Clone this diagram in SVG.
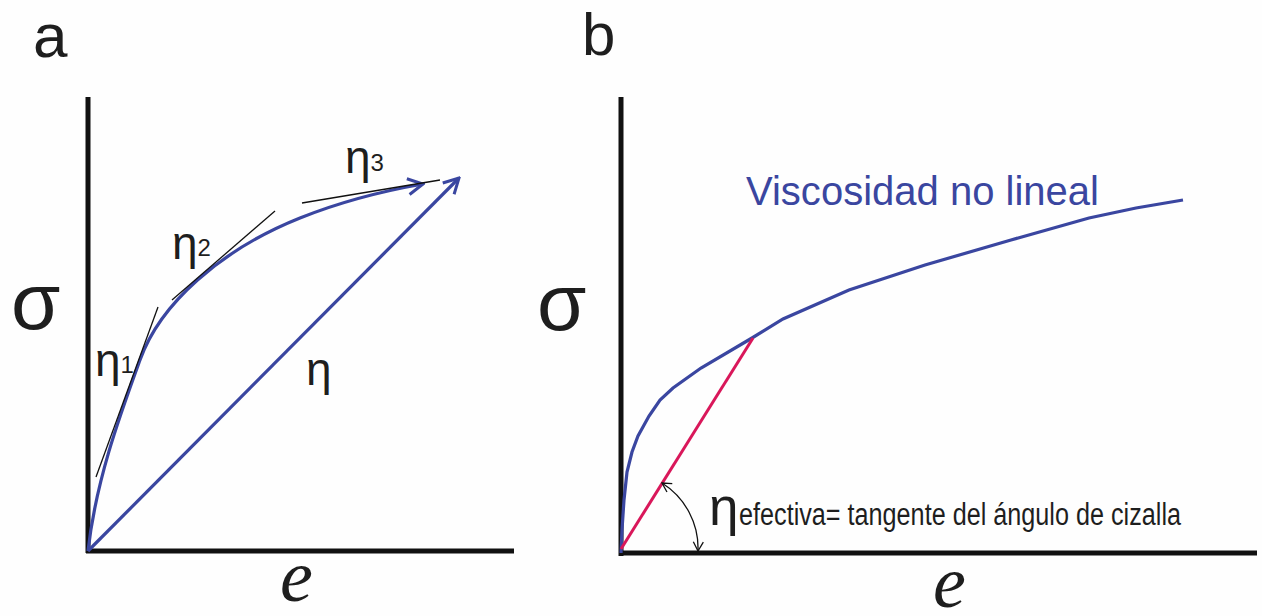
<svg xmlns="http://www.w3.org/2000/svg" width="1262" height="616" viewBox="0 0 1262 616">
<style>
.axis{stroke:#111;stroke-width:5;fill:none;stroke-linecap:butt}
.blue{stroke:#3a46a0;stroke-width:3.2;fill:none}
.tan{stroke:#111;stroke-width:1.3;fill:none}
.red{stroke:#d9175a;stroke-width:3;fill:none}
.lbl{font-family:"Liberation Sans",Arial,sans-serif;fill:#1e1e1e}
.ev{font-family:"Liberation Serif","Times New Roman",serif;font-style:italic;fill:#1e1e1e}
</style>
<defs>
<marker id="arrB" viewBox="0 0 20 20" refX="18" refY="10" markerWidth="20" markerHeight="20" markerUnits="userSpaceOnUse" orient="auto">
<path d="M3,2 L18,10 L3,18" fill="none" stroke="#3a46a0" stroke-width="3"/>
</marker>
<marker id="arrK" viewBox="0 0 12 12" refX="11" refY="6" markerWidth="12" markerHeight="12" markerUnits="userSpaceOnUse" orient="auto-start-reverse">
<path d="M2,1 L11,6 L2,11" fill="none" stroke="#111" stroke-width="1.3"/>
</marker>
</defs>
<rect width="1262" height="616" fill="#fefefe"/>

<g id="panel-a">
<text class="lbl" x="33" y="57" font-size="62">a</text>
<line class="axis" x1="88" y1="97" x2="88" y2="553"/>
<line class="axis" x1="86" y1="551" x2="514" y2="551"/>
<text class="lbl" x="11" y="329" font-size="80">σ</text>
<text class="ev" x="280" y="601" font-size="74">e</text>
</g>

<g id="connectors-a">
<path class="blue" d="M88,551 C96,480 120,415 140,360 C160,304 220,250 300,218 C340,202 383,191 423,184" marker-end="url(#arrB)"/>
<line class="blue" x1="88" y1="551" x2="459" y2="178" marker-end="url(#arrB)"/>
<line class="tan" x1="96" y1="477" x2="158" y2="307"/>
<line class="tan" x1="172" y1="300" x2="275" y2="211"/>
<line class="tan" x1="302" y1="203" x2="440" y2="180"/>
</g>

<g id="labels-a">
<text class="lbl" x="95" y="376" font-size="46">η<tspan font-size="24" dy="-3">1</tspan></text>
<text class="lbl" x="172" y="259" font-size="46">η<tspan font-size="24" dy="-3">2</tspan></text>
<text class="lbl" x="345" y="173" font-size="46">η<tspan font-size="24" dy="-2">3</tspan></text>
<text class="lbl" x="306" y="385" font-size="46">η</text>
</g>

<g id="panel-b">
<text class="lbl" x="582" y="55" font-size="60">b</text>
<line class="axis" x1="621" y1="97" x2="621" y2="556"/>
<line class="axis" x1="619" y1="553" x2="1257" y2="553"/>
<text class="lbl" x="537" y="330" font-size="80">σ</text>
<text class="ev" x="933" y="607" font-size="74">e</text>
<text class="lbl" x="746" y="205" font-size="40" style="fill:#3a46a0" textLength="353" lengthAdjust="spacingAndGlyphs">Viscosidad no lineal</text>
</g>

<g id="connectors-b">
<path class="blue" d="M621,553 L622,530 L624,500 L627,472 L632,452 L638,436 L649,416 L660,400 L673,388 L701,368 L752,338 L783,319 L849,290 L925,265 L1011,240 L1089,218 L1136,208 L1183,200"/>
<line class="red" x1="621" y1="549" x2="753" y2="338"/>
<path class="tan" d="M662,483 A77,77 0 0 1 698,551" marker-start="url(#arrK)" marker-end="url(#arrK)"/>
</g>

<g id="label-b">
<text class="lbl" x="709" y="525" font-size="53">η</text>
<text class="lbl" x="739" y="525" font-size="31" textLength="442" lengthAdjust="spacingAndGlyphs">efectiva= tangente del ángulo de cizalla</text>
</g>
</svg>
